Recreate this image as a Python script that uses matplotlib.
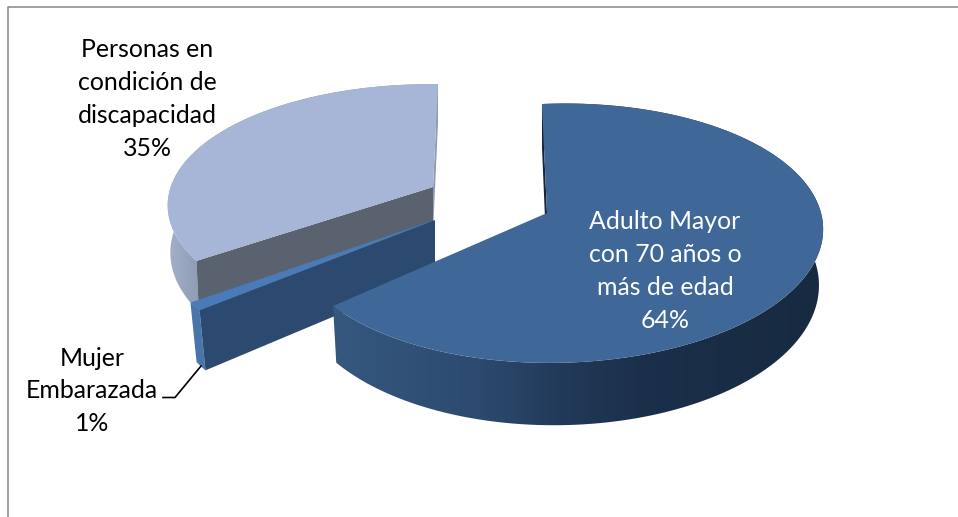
import numpy as np
import matplotlib
matplotlib.use("Agg")
import matplotlib.pyplot as plt
from matplotlib.colors import to_rgb
from matplotlib.patches import Polygon

categories = ["Adulto Mayor\ncon 70 años o\nmás de edad", "Mujer\nEmbarazada", "Personas en\ncondición de\ndiscapacidad"]
percentages = [64, 1, 35]

# projection of the unit disc for each slice: apex position, scales, perspective terms, depth
views = [
    dict(ox=547, oy=213, a=262, b=126.2, c=-5.8, f=-7.4, k=0.158, m=-0.035, h=52.5, zs=0.985),
    dict(ox=435, oy=220, a=270, b=127.4, c=5.8, f=0, k=0.158, m=0, h=54, zs=0.975),
    dict(ox=433, oy=187, a=261, b=119, c=5.8, f=3.6, k=0.158, m=0, h=46, zs=0.99),
]

top_colors = ["#3f6797", "#4a7ab8", "#a7b6d6"]
cut_colors = ["#14263c", "#2c4a6f", "#5a6270"]
side_stops = [
    ([331, 480, 560, 650, 823], ["#36587f", "#2c4a6e", "#223a59", "#1a2f49", "#172a41"]),
    ([185, 210], ["#4a75ab", "#4a75ab"]),
    ([168, 200, 440], ["#a3b0c9", "#8e9bb4", "#8e9bb4"]),
]
sliver_color = "#8f9cb5"


def project(theta, r, v, z=0.0):
    # theta in degrees, clockwise from the top of the disc
    t = np.radians(theta)
    x = r * np.sin(t)
    y = r * np.cos(t)
    w = 1 + v["k"] * y + v["m"] * x
    sx = (v["a"] * x + v["c"] * y) / w
    sy = (-v["b"] * y + v["f"] * x) / w
    if z:
        sx = sx * v["zs"]
        sy = sy + z * v["h"] / w
    return v["ox"] + sx, v["oy"] + sy


def draw_wall(ax, angles, v, stops):
    # outer wall: a horizontal gradient clipped to the band between top and bottom rims
    tx, ty = project(angles, 1, v)
    bx, by = project(angles, 1, v, 1)
    outline = np.column_stack([np.r_[tx, bx[::-1]], np.r_[ty, by[::-1]]])
    patch = Polygon(outline, closed=True, transform=ax.transData, fc="none", ec="none")
    ax.add_patch(patch)

    xs, cols = stops
    rgb = np.array([to_rgb(c) for c in cols])
    grid = np.arange(0, 958)
    row = np.column_stack([np.interp(grid, xs, rgb[:, i]) for i in range(3)])
    im = ax.imshow(row[np.newaxis, :, :], extent=(0, 958, 517, 0), aspect="auto", interpolation="bilinear")
    im.set_clip_path(patch)


def draw_slice(ax, start, end, v, top, cut, stops, front_cut=True, back_cut=None):
    angles = np.linspace(start, end, 200)
    draw_wall(ax, angles, v, stops)

    # flat faces at the two straight edges
    if back_cut:
        angle, col = back_cut
        ox, oy = project(angle, 0, v)
        bx, by = project(angle, 0, v, 1)
        tx, ty = project(angle, 1, v)
        ux, uy = project(angle, 1, v, 1)
        ax.fill([tx, ux, bx, ox], [ty, uy, by, oy], color=col, lw=0, zorder=2)
    if front_cut:
        ox, oy = project(start, 0, v)
        bx, by = project(start, 0, v, 1)
        tx, ty = project(start, 1, v)
        ux, uy = project(start, 1, v, 1)
        ax.fill([tx, ux, bx, ox], [ty, uy, by, oy], color=cut, lw=0, zorder=2)

    # top surface
    px, py = project(angles, 1, v)
    ox, oy = project(start, 0, v)
    ax.fill(np.append(px, ox), np.append(py, oy), color=top, lw=0, zorder=2)


fig = plt.figure(figsize=(9.58, 5.17), dpi=100)

plt.rcParams["font.family"] = ["Lato", "DejaVu Sans"]

# slice angles from the percentages, clockwise from the top
edges = np.cumsum([0] + percentages) * 3.6

# back to front: discapacidad, embarazada, adulto mayor, each slice on its own layer
order = [
    (edges[2], edges[3], 2, dict(back_cut=(edges[3], sliver_color))),
    (edges[1], edges[2], 1, dict()),
    (edges[0], edges[1], 0, dict(front_cut=False, back_cut=(edges[0], cut_colors[0]))),
]
for start, end, idx, extra in order:
    layer = fig.add_axes([0, 0, 1, 1])
    layer.patch.set_alpha(0)
    layer.axis("off")
    draw_slice(layer, start, end, views[idx], top_colors[idx], cut_colors[idx], side_stops[idx], **extra)
    layer.set_xlim(0, 958)
    layer.set_ylim(517, 0)

top = fig.add_axes([0, 0, 1, 1])
top.patch.set_alpha(0)
top.axis("off")
top.set_xlim(0, 958)
top.set_ylim(517, 0)

# chart border, only left and top show
top.plot([8.5, 8.5, 958], [517, 6.5, 6.5], color="#868686", lw=1.1, solid_capstyle="butt")

# leader line for the small slice
top.plot([163, 175, 201], [397.5, 397.5, 366], color="black", lw=1.2)

font = dict(fontsize=17.9, ha="center", va="center", linespacing=1.51)
top.text(665, 271, f"{categories[0]}\n{percentages[0]}%", color="white", **font)
top.text(92, 391, f"{categories[1]}\n{percentages[1]}%", color="black", **font)
top.text(147, 99, f"{categories[2]}\n{percentages[2]}%", color="black", **font)

fig.savefig("out.png", dpi=100)
